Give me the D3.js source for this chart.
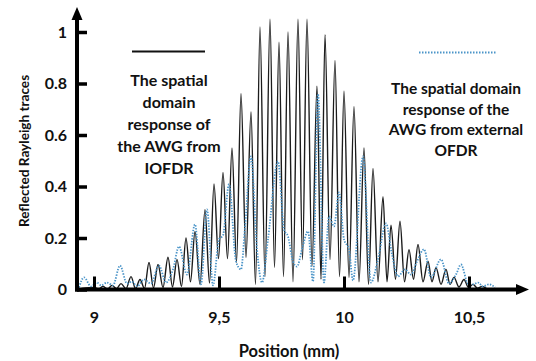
<!DOCTYPE html>
<html><head><meta charset="utf-8">
<script src="https://cdn.jsdelivr.net/npm/d3@7/dist/d3.min.js"></script>
<style>
body{margin:0;background:#fff}
svg text{font-family:Lato,"Open Sans",sans-serif;fill:#111}
</style>
</head><body>
<svg id="chart" width="536" height="361"></svg>
<script>
// ---- data ----
const xTicks = [9, 9.5, 10, 10.5];
const xTickLabels = ["9", "9,5", "10", "10,5"];
const yTicks = [0, 0.2, 0.4, 0.6, 0.8, 1];
const yTickLabels = ["0", "0.2", "0.4", "0.6", "0.8", "1"];

// IOFDR trace (black solid): alternating peaks / valleys
const iofdrX = [8.95, 9.000, 9.018, 9.036, 9.054, 9.072, 9.090, 9.108, 9.128, 9.148, 9.166, 9.184, 9.202,
  9.220, 9.238, 9.256, 9.276, 9.296, 9.314, 9.332, 9.350, 9.368, 9.386, 9.404, 9.424, 9.444, 9.462,
  9.480, 9.498, 9.516, 9.534, 9.552, 9.570, 9.588, 9.608, 9.628, 9.646, 9.664, 9.684, 9.704, 9.722,
  9.740, 9.758, 9.776, 9.796, 9.816, 9.834, 9.852, 9.872, 9.892, 9.908, 9.924, 9.944, 9.964, 9.982,
  10.000, 10.020, 10.040, 10.060, 10.080, 10.098, 10.116, 10.136, 10.156, 10.172, 10.188, 10.206,
  10.224, 10.242, 10.260, 10.278, 10.296, 10.316, 10.336, 10.352, 10.368, 10.388, 10.408, 10.424,
  10.440, 10.460, 10.480, 10.498, 10.516, 10.534, 10.552, 10.57];
const iofdrY = [0.004, 0.008, 0.002, 0.012, 0.002, 0.016, 0.003, 0.023, 0.003, 0.05, 0.004, 0.039, 0.004,
  0.105, 0.006, 0.097, 0.008, 0.125, 0.01, 0.117, 0.012, 0.20, 0.03, 0.225, 0.02, 0.31, 0.025,
  0.41, 0.12, 0.455, 0.12, 0.55, 0.105, 0.76, 0.125, 0.69, 0.02, 1.02, 0.05, 1.05, 0.085,
  0.96, 0.05, 1.00, 0.03, 1.05, 0.116, 1.05, 0.09, 0.79, 0.04, 0.99, 0.116, 0.89, 0.05,
  0.77, 0.047, 0.71, 0.03, 0.55, 0.02, 0.47, 0.03, 0.36, 0.03, 0.25, 0.04,
  0.265, 0.03, 0.155, 0.04, 0.175, 0.03, 0.11, 0.03, 0.085, 0.02, 0.078, 0.02,
  0.047, 0.01, 0.039, 0.008, 0.02, 0.005, 0.012, 0.004];

// external OFDR trace (blue dotted)
const ofdrX = [8.94, 8.96, 8.988, 9.012, 9.028, 9.052, 9.076, 9.104, 9.132, 9.152, 9.172, 9.20, 9.228,
  9.26, 9.288, 9.316, 9.34, 9.372, 9.404, 9.428, 9.452, 9.476, 9.50, 9.516, 9.54, 9.568, 9.588,
  9.604, 9.628, 9.652, 9.672, 9.696, 9.736, 9.76, 9.776, 9.796, 9.812, 9.832, 9.856, 9.876, 9.896,
  9.92, 9.94, 9.96, 9.98, 10.0, 10.02, 10.036, 10.076, 10.108, 10.136, 10.168, 10.192, 10.216,
  10.244, 10.268, 10.292, 10.32, 10.348, 10.388, 10.42, 10.448, 10.468, 10.496, 10.516, 10.536,
  10.556, 10.58, 10.604];
const ofdrY = [0.008, 0.047, 0.012, 0.027, 0.016, 0.027, 0.016, 0.093, 0.023, 0.031, 0.012, 0.039, 0.023,
  0.093, 0.027, 0.078, 0.167, 0.058, 0.253, 0.02, 0.311, 0.016, 0.195, 0.21, 0.409, 0.109, 0.078,
  0.241, 0.517, 0.156, 0.027, 0.195, 0.498, 0.233, 0.206, 0.109, 0.089, 0.156, 0.226, 0.031, 0.759,
  0.027, 0.284, 0.245, 0.377, 0.195, 0.156, 0.035, 0.517, 0.027, 0.117, 0.257, 0.136, 0.051,
  0.078, 0.058, 0.109, 0.156, 0.047, 0.117, 0.023, 0.058, 0.097, 0.023, 0.02, 0.027,
  0.012, 0.02, 0.008];

const legendIOFDR = ["The spatial", "domain", "response of", "the AWG from", "IOFDR"];
const legendOFDR = ["The spatial domain", "response of the", "AWG from external", "OFDR"];
const xTitle = "Position (mm)";
const yTitle = "Reflected Rayleigh traces";

// ---- drawing ----
const svg = d3.select("#chart");
svg.append("rect").attr("width", 536).attr("height", 361).attr("fill", "#fff");

const x = d3.scaleLinear().domain([9, 10.5]).range([94, 469]);
const y = d3.scaleLinear().domain([0, 1]).range([289.5, 32]);
const x0 = 77, yBase = y(0);
const FONT = "Lato, 'Open Sans', sans-serif";

const line = d3.line().curve(d3.curveMonotoneX).x(d => x(d[0])).y(d => y(d[1]));

// black IOFDR trace
svg.append("path")
  .datum(d3.zip(iofdrX, iofdrY))
  .attr("d", line).attr("fill", "none")
  .attr("stroke", "#1c1c1c").attr("stroke-width", 1.4).attr("stroke-linejoin", "round");

// blue dotted OFDR trace
svg.append("path")
  .datum(d3.zip(ofdrX, ofdrY))
  .attr("d", line).attr("fill", "none")
  .attr("stroke", "#4a94c8").attr("stroke-width", 1.8).attr("stroke-dasharray", "1.4,1.4");

// Y axis
const yAxis = d3.axisLeft(y).tickValues(yTicks)
  .tickFormat((d, i) => yTickLabels[i]).tickSizeInner(-10).tickSizeOuter(0).tickPadding(10);
const gy = svg.append("g").attr("transform", `translate(${x0},0)`).call(yAxis);
gy.select(".domain").remove();
gy.selectAll(".tick line").attr("stroke", "#000").attr("stroke-width", 3.5);
gy.selectAll(".tick text").attr("font-size", 16).attr("font-weight", "bold")
  .attr("font-family", FONT).attr("fill", "#111");

// X axis
const xAxis = d3.axisBottom(x).tickValues(xTicks)
  .tickFormat((d, i) => xTickLabels[i]).tickSizeInner(-13).tickSizeOuter(0).tickPadding(22);
const gx = svg.append("g").attr("transform", `translate(0,${yBase})`).call(xAxis);
gx.select(".domain").remove();
gx.selectAll(".tick line").attr("stroke", "#000").attr("stroke-width", 3);
gx.selectAll(".tick text").attr("font-size", 16).attr("font-weight", "bold")
  .attr("font-family", FONT).attr("fill", "#111");

// axis lines with arrows
svg.append("line").attr("x1", x0).attr("x2", x0).attr("y1", yBase + 2).attr("y2", 18)
  .attr("stroke", "#000").attr("stroke-width", 4);
svg.append("path").attr("d", `M${x0 - 5.5},20 L${x0},7 L${x0 + 5.5},20 Z`).attr("fill", "#000");
svg.append("line").attr("x1", x0 - 2).attr("x2", 518).attr("y1", yBase).attr("y2", yBase)
  .attr("stroke", "#000").attr("stroke-width", 4);
svg.append("path").attr("d", `M516,${yBase - 5.5} L529,${yBase} L516,${yBase + 5.5} Z`).attr("fill", "#000");

// titles
svg.append("text").attr("x", 289).attr("y", 357).attr("text-anchor", "middle")
  .attr("font-size", 16.5).attr("font-weight", "bold").text(xTitle);
svg.append("text").attr("transform", "translate(29,151) rotate(-90)").attr("text-anchor", "middle")
  .attr("font-size", 13.6).attr("font-weight", "bold").attr("fill", "#222").text(yTitle);

// legend: IOFDR
svg.append("line").attr("x1", 132).attr("x2", 205).attr("y1", 51.5).attr("y2", 51.5)
  .attr("stroke", "#111").attr("stroke-width", 2.2);
svg.append("g").selectAll("text").data(legendIOFDR).join("text")
  .attr("x", 169).attr("y", (d, i) => 86 + i * 22).attr("text-anchor", "middle")
  .attr("font-size", 16).attr("font-weight", "bold").text(d => d);

// legend: OFDR
svg.append("line").attr("x1", 419).attr("x2", 496).attr("y1", 52.5).attr("y2", 52.5)
  .attr("stroke", "#4a94c8").attr("stroke-width", 2).attr("stroke-dasharray", "1.5,1.5");
svg.append("g").selectAll("text").data(legendOFDR).join("text")
  .attr("x", 456).attr("y", (d, i) => 94 + i * 20.5).attr("text-anchor", "middle")
  .attr("font-size", 15.5).attr("font-weight", "bold").text(d => d);
</script>
</body></html>
